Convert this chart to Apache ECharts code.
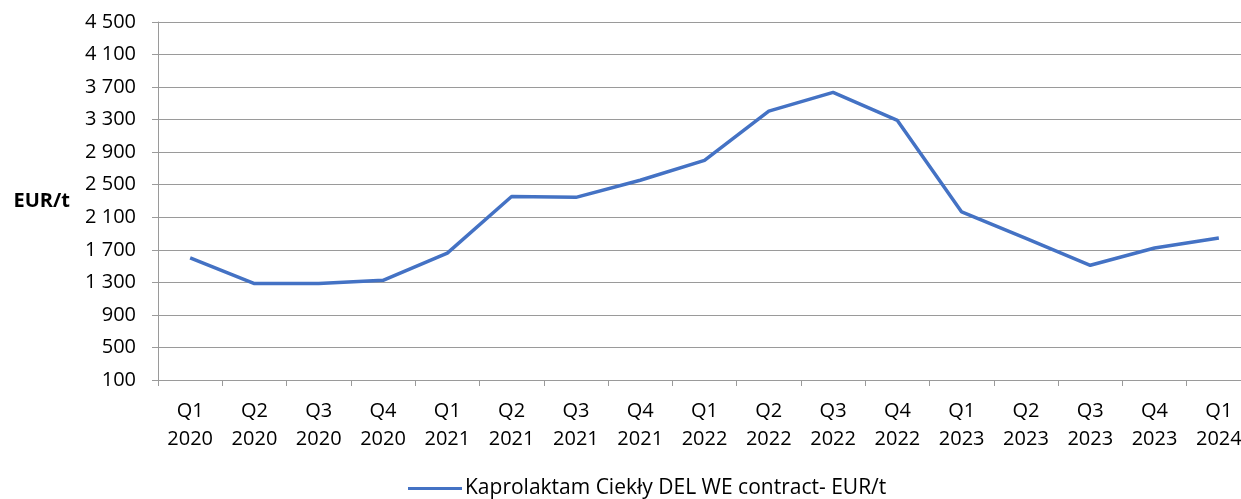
<!DOCTYPE html>
<html>
<head>
<meta charset="utf-8">
<script src="https://cdn.jsdelivr.net/npm/echarts@6/dist/echarts.min.js"></script>
<style>
  html, body { margin: 0; padding: 0; background: #fff; }
  #chart { width: 1241px; height: 499px; }
</style>
</head>
<body>
<div id="chart"></div>
<script>
const quarters = [
  "Q1\n2020", "Q2\n2020", "Q3\n2020", "Q4\n2020",
  "Q1\n2021", "Q2\n2021", "Q3\n2021", "Q4\n2021",
  "Q1\n2022", "Q2\n2022", "Q3\n2022", "Q4\n2022",
  "Q1\n2023", "Q2\n2023", "Q3\n2023", "Q4\n2023",
  "Q1\n2024"
];
const caprolactamPrice = [
  1600, 1285, 1285, 1325,
  1660, 2355, 2345, 2555,
  2800, 3405, 3635, 3290,
  2165, 1840, 1510, 1722,
  1846
];
const seriesName = "Kaprolaktam Ciekły DEL WE contract- EUR/t";
const unitLabel = "EUR/t";
const yMin = 100;
const yMax = 4500;
const yStep = 400;

const font = "'Open Sans', 'Liberation Sans', sans-serif";

function fmtThousands(v) {
  if (v < 1000) return String(v);
  return Math.floor(v / 1000) + " " + String(v % 1000).padStart(3, "0");
}

const chart = echarts.init(document.getElementById("chart"));
chart.setOption({
  animation: false,
  backgroundColor: "#fff",
  textStyle: { fontFamily: font },
  grid: {
    left: 158,
    right: -10,
    top: 22,
    bottom: 119,
    outerBoundsMode: "none"
  },
  legend: {
    data: [seriesName],
    left: 403,
    top: 473,
    icon: "rect",
    itemWidth: 54,
    itemHeight: 3,
    itemGap: 10,
    textStyle: { fontFamily: font, fontSize: 21, color: "#000", padding: [0, 0, 0, -2] }
  },
  xAxis: {
    type: "category",
    data: quarters,
    boundaryGap: true,
    axisLine: { lineStyle: { color: "#9a9a9a", width: 1 } },
    axisTick: { show: true, length: 6, lineStyle: { color: "#9a9a9a" } },
    axisLabel: {
      interval: 0,
      margin: 17,
      fontSize: 20,
      lineHeight: 28,
      color: "#000",
      fontFamily: font
    }
  },
  yAxis: {
    type: "value",
    min: yMin,
    max: yMax,
    interval: yStep,
    name: unitLabel,
    nameLocation: "middle",
    nameRotate: 0,
    nameGap: 88,
    nameTextStyle: {
      fontFamily: font,
      fontSize: 20,
      fontWeight: "bold",
      color: "#000",
      padding: [0, 0, 22, 0]
    },
    axisLine: { show: true, lineStyle: { color: "#9a9a9a", width: 1 } },
    axisTick: { show: true, length: 6, lineStyle: { color: "#9a9a9a" } },
    axisLabel: {
      margin: 22,
      fontSize: 20,
      color: "#000",
      fontFamily: font,
      formatter: fmtThousands
    },
    splitLine: { show: true, lineStyle: { color: "#9a9a9a", width: 1 } }
  },
  series: [
    {
      name: seriesName,
      type: "line",
      data: caprolactamPrice,
      showSymbol: false,
      smooth: false,
      lineStyle: { color: "#4472C4", width: 3.5 },
      itemStyle: { color: "#4472C4" }
    }
  ]
});
</script>
</body>
</html>
